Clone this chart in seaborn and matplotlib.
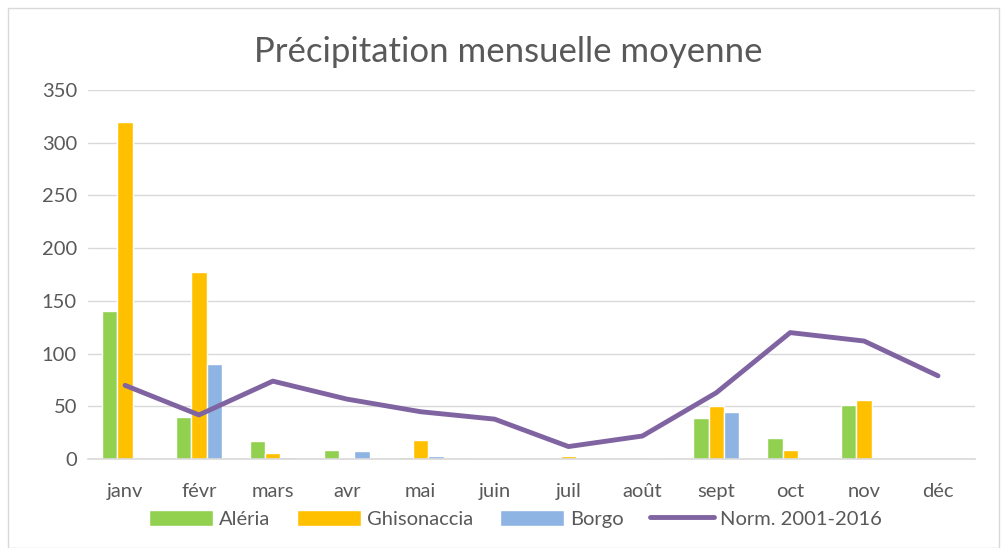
import seaborn as sns
from matplotlib import pyplot as plt
from matplotlib.patches import Rectangle
import pandas as pd

months = ["janv", "févr", "mars", "avr", "mai", "juin", "juil", "août", "sept", "oct", "nov", "déc"]
aleria = [140, 40, 17, 9, 2, 1, 0.5, 0, 39, 20, 51, 0]
ghisonaccia = [320, 177, 6, 1, 18, 1, 3, 0.5, 50, 9, 56, 0]
borgo = [0, 90, 2, 8, 3, 1, 0, 1, 45, 0, 0, 0]
normale = [70, 42, 74, 57, 45, 38, 12, 22, 63, 120, 112, 79]

sns.set_style("white")
plt.rcParams['font.family'] = ['Lato', 'DejaVu Sans']

bars = pd.DataFrame({"mois": months, "Aléria": aleria,
                     "Ghisonaccia": ghisonaccia, "Borgo": borgo})
bars = bars.melt(id_vars="mois", var_name="station", value_name="pluie")

fig, ax = plt.subplots(figsize=(10.01, 5.48), dpi=100)
fig.subplots_adjust(left=0.088, right=0.974, top=0.836, bottom=0.162)

sns.barplot(data=bars, x="mois", y="pluie", hue="station",
            palette=["#92D050", "#FFC000", "#8EB4E3"], width=0.62,
            ax=ax, saturation=1, errorbar=None)
sns.lineplot(x=list(range(len(months))), y=normale, color="#8064A2",
             linewidth=3.5, ax=ax, label="Norm. 2001-2016")

ax.set_ylim(0, 350)
ax.set_xlim(-0.5, 11.5)
ax.set_yticks(range(0, 351, 50))
ax.yaxis.grid(True, color="#D9D9D9", linewidth=1)
ax.set_axisbelow(True)
for s in ["top", "right", "left"]:
    ax.spines[s].set_visible(False)
ax.spines["bottom"].set_color("#D9D9D9")
ax.spines["bottom"].set_linewidth(1.2)
ax.tick_params(axis="both", length=0, labelsize=14.5, colors="#595959")
ax.tick_params(axis="x", pad=17)
ax.tick_params(axis="y", pad=8)
ax.set_xlabel("")
ax.set_ylabel("")
fig.text(0.508, 0.905, "Précipitation mensuelle moyenne", fontsize=25,
         color="#595959", ha="center", va="center")

ax.legend(loc="upper center", bbox_to_anchor=(0.482, -0.115), ncol=4, frameon=False,
          fontsize=14.5, labelcolor="#595959", handlelength=3.2, handleheight=0.9,
          columnspacing=1.3, handletextpad=0.3, borderaxespad=0)

fig.patches.append(Rectangle((0.008, 0.0), 0.99, 0.985, transform=fig.transFigure,
                             fill=False, edgecolor="#D9D9D9", linewidth=1))

plt.savefig("out.png", dpi=100)
